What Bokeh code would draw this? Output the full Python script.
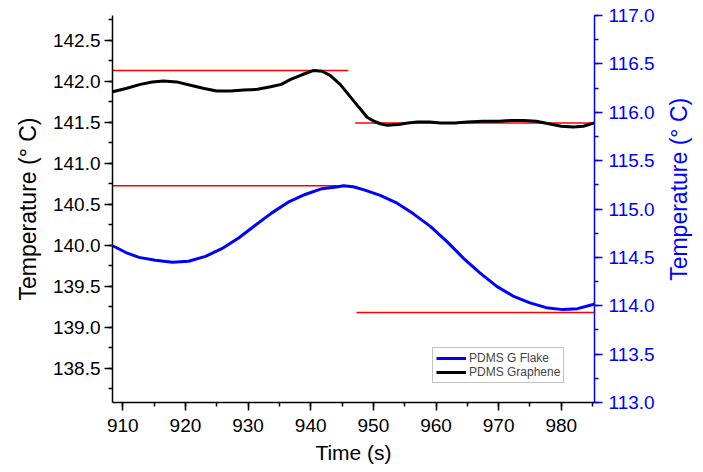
import math
from bokeh.plotting import figure
from bokeh.layouts import row
from bokeh.models import (Range1d, LinearAxis, Legend, LegendItem, SingleIntervalTicker,
                          PrintfTickFormatter)
from bokeh.core.properties import value
from bokeh.embed import file_html
from bokeh.resources import INLINE

# ---- data ----
graphene_t = [908.4, 910.5, 912.8, 914.7, 916.5, 918.6, 920.8, 923.0, 925.0, 927.2, 929.3,
              931.5, 933.6, 935.3, 936.8, 938.7, 940.5, 941.8, 943.1, 944.7, 946.3, 947.7,
              949.0, 950.1, 951.1, 952.2, 954.0, 955.5, 957.0, 959.0, 960.7, 963.0, 965.0,
              967.5, 970.0, 972.0, 974.0, 976.0, 978.0, 980.0, 981.9, 983.5, 985.3]
graphene_T = [141.87, 141.91, 141.96, 141.99, 142.00, 141.99, 141.95, 141.91, 141.88, 141.88, 141.89,
              141.90, 141.93, 141.96, 142.02, 142.08, 142.13, 142.12, 142.07, 141.96, 141.81, 141.68,
              141.56, 141.51, 141.48, 141.46, 141.47, 141.49, 141.50, 141.50, 141.49, 141.49, 141.50,
              141.51, 141.51, 141.52, 141.52, 141.51, 141.48, 141.45, 141.44, 141.45, 141.49]

flake_t = [908.4, 910.5, 912.6, 915.2, 917.9, 920.5, 923.2, 925.8, 928.5, 931.1, 933.8, 936.4,
           939.1, 941.8, 944.4, 945.2, 946.8, 948.4, 951.1, 953.8, 956.4, 959.1, 961.8, 964.4,
           967.0, 969.7, 972.3, 975.0, 977.6, 980.3, 982.6, 984.9, 985.3]
flake_T = [114.62, 114.55, 114.50, 114.47, 114.45, 114.46, 114.51, 114.59, 114.70, 114.83, 114.96, 115.07,
           115.15, 115.21, 115.23, 115.24, 115.23, 115.20, 115.14, 115.06, 114.95, 114.82, 114.66, 114.49,
           114.34, 114.20, 114.10, 114.03, 113.98, 113.96, 113.97, 114.01, 114.02]

# red reference levels: (start, end, level)
graphene_fit_x0 = [908.4, 947.1]
graphene_fit_x1 = [946.0, 985.3]
graphene_fit_y = [142.13, 141.49]
flake_fit_x0 = [908.4, 947.3]
flake_fit_x1 = [946.0, 985.3]
flake_fit_y = [115.24, 113.93]

x_limits = [908.36, 985.3]
left_limits = [138.08, 142.80]
right_limits = [113.0, 117.0]

y_title = "Temperature (° C)"
x_title = "Time (s)"
legend_labels = ["PDMS G Flake", "PDMS Graphene"]

FONT = "Liberation Sans"
BLUE = "#0000FF"
TITLE_STRIP_W = 40

p = figure(width=703 - TITLE_STRIP_W, height=472, output_backend="svg", toolbar_location=None,
           x_range=Range1d(*x_limits), y_range=Range1d(*left_limits),
           min_border_left=112, min_border_right=703 - TITLE_STRIP_W - 594,
           min_border_top=15, min_border_bottom=70)
p.extra_y_ranges = {"right": Range1d(*right_limits)}
p.outline_line_color = None
p.grid.visible = False
p.background_fill_color = "white"

# red level lines
p.segment(x0=graphene_fit_x0, x1=graphene_fit_x1, y0=graphene_fit_y, y1=graphene_fit_y,
          line_color="red", line_width=1.5)
p.segment(x0=flake_fit_x0, x1=flake_fit_x1, y0=flake_fit_y, y1=flake_fit_y,
          line_color="red", line_width=1.5, y_range_name="right")

r_black = p.line(graphene_t, graphene_T, line_color="black", line_width=3)
r_blue = p.line(flake_t, flake_T, line_color=BLUE, line_width=3, y_range_name="right")

def style(ax, color="black"):
    ax.axis_line_color = color
    ax.axis_line_width = 1.5
    ax.major_tick_line_color = color
    ax.minor_tick_line_color = color
    ax.major_tick_line_width = 1.5
    ax.minor_tick_line_width = 1.5
    ax.major_tick_out = 8
    ax.major_tick_in = 0
    ax.minor_tick_out = 4
    ax.minor_tick_in = 0
    ax.major_label_text_font = FONT
    ax.major_label_text_font_size = "19px"
    ax.major_label_text_color = color
    ax.axis_label_text_font = FONT
    ax.axis_label_text_font_size = "23px"
    ax.axis_label_text_font_style = "normal"
    ax.axis_label_text_color = color

xa = p.xaxis[0]
xa.ticker = SingleIntervalTicker(interval=10, num_minor_ticks=2)
xa.axis_label = x_title
style(xa)
xa.axis_label_text_font_size = "21px"
xa.major_label_standoff = 8
xa.axis_label_standoff = 6

ya = p.yaxis[0]
ya.ticker = SingleIntervalTicker(interval=0.5, num_minor_ticks=2)
ya.formatter = PrintfTickFormatter(format="%.1f")
ya.axis_label = y_title
style(ya)
ya.major_label_standoff = 4
ya.axis_label_standoff = 9

ra = LinearAxis(y_range_name="right",
                ticker=SingleIntervalTicker(interval=0.5, num_minor_ticks=2),
                formatter=PrintfTickFormatter(format="%.1f"))
style(ra, BLUE)
ra.major_label_standoff = 6
p.add_layout(ra, "right")

legend = Legend(items=[LegendItem(label=legend_labels[0], renderers=[r_blue]),
                       LegendItem(label=legend_labels[1], renderers=[r_black])],
                location=(320, 19))
legend.label_text_font = FONT
legend.label_text_font_size = "12px"
legend.label_height = 14
legend.glyph_height = 14
legend.glyph_width = 30
legend.spacing = 0
legend.padding = 3
legend.margin = 0
legend.label_standoff = 3
legend.border_line_color = "#888888"
legend.border_line_width = 1
legend.background_fill_alpha = 1
p.add_layout(legend)

# narrow strip holding the right axis title (reads bottom-to-top, like the left one)
s = figure(width=TITLE_STRIP_W, height=472, output_backend="svg", toolbar_location=None,
           x_range=Range1d(0, TITLE_STRIP_W), y_range=Range1d(0, 472),
           min_border_left=0, min_border_right=0, min_border_top=0, min_border_bottom=0)
s.axis.visible = False
s.grid.visible = False
s.outline_line_color = None
s.text(x=[15], y=[472 - 212], text=[y_title], angle=math.pi / 2,
       text_align="center", text_baseline="middle",
       text_font=value(FONT), text_font_size="23px", text_color=BLUE)

layout = row(p, s, spacing=0)
open("out.html", "w").write(file_html(layout, INLINE))
